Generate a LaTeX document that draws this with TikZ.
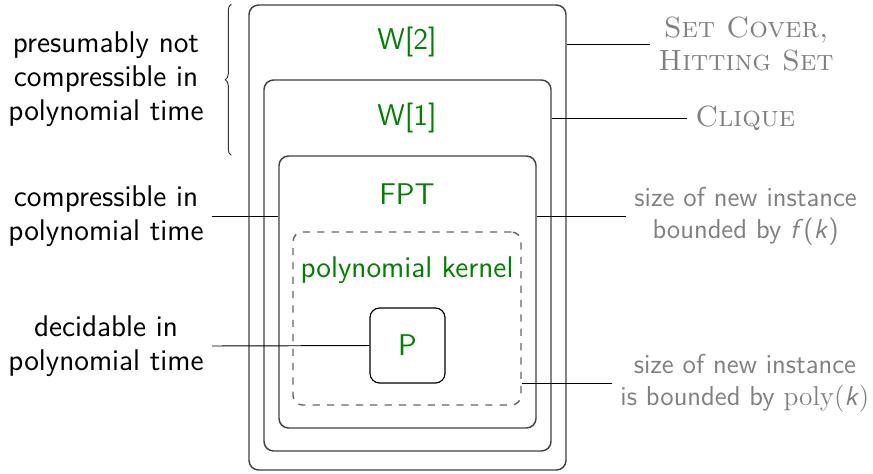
\documentclass[tikz,border=0pt]{standalone}
\usepackage{fontspec}
\usepackage{xcolor}
\usetikzlibrary{fit,calc,positioning}
\usetikzlibrary{decorations.pathreplacing}
\definecolor{classgreen}{rgb}{0,0.5,0}
\tikzset{>=latex}
\tikzset{
	classbox/.style={draw=black!75, line width=0.6pt, rounded corners=4pt, inner sep=0pt},
	classname/.style={text=classgreen, font=\sffamily\fontsize{12.5}{14.2}\selectfont},
	leftlabel/.style={anchor=east, align=center, font=\sffamily\fontsize{12.5}{14.2}\selectfont},
	rightlabel/.style={anchor=west, align=center, text=black!50, font=\sffamily\fontsize{11.4}{13.4}\selectfont},
	problabel/.style={rightlabel, font=\rmfamily\scshape\fontsize{12.2}{13.4}\selectfont}
}

\begin{document}
\begin{tikzpicture}[x=0.014662cm, y=-0.014662cm]
            \useasboundingbox (0,0) rectangle (873,473);
            \node[classbox, fit={(249,5) (566,470)}] (W2) {};
            \node[classbox, fit={(264,80) (551,451)}] (W1) {};
            \node[classbox, fit={(279,156) (536,428)}] (FPT) {};
            \node[classbox, draw=black!60, dashed, fit={(293,232) (521,405)}] (PK) {};
            \node[classbox, draw=black, line width=0.5pt, fit={(370,308) (445,383)}] (P) {};
            \node[classname] (W2name) at (407,42) {W[2]};
            \node[classname] (W1name) at (407,118) {W[1]};
            \node[classname] (FPTname) at (407,194) {FPT};
            \node[classname] (PKname) at (407,270) {polynomial kernel};
            \node[classname] (Pname) at (P) {P};
            \node[leftlabel] (Pres) at (212,79) {presumably not\\compressible in\\polynomial time};
            \node[leftlabel] (Comp) at (212,216) {compressible in\\polynomial time};
            \node[leftlabel] (Dec) at (212,346) {decidable in\\polynomial time};
            \node[problabel] (SC) at (650,44) {Set Cover,\\Hitting Set};
            \node[problabel] (CL) at (687,118) {Clique};
            \node[rightlabel] (FK) at (626,216) {size of new instance\\bounded by \textit{f}(\textit{k})};
            \node[rightlabel] (PolyK) at (612,383) {size of new instance\\is bounded by \textrm{poly(}\textit{k}\textrm{)}};
            \draw[black!80, decorate, decoration={brace, amplitude=2.5pt}] ($(W2.west |- FPT.north)+(-17,0)$) -- ($(W2.north west)+(-17,0)$);
            \draw (Comp.east) -- (FPT.west |- Comp.east);
            \draw (Dec.east) -- (P.west);
            \draw (W2.east |- SC.west) -- (SC.west);
            \draw (W1.east |- CL.west) -- (CL.west);
            \draw (FPT.east |- FK.west) -- (FK.west);
            \draw (PK.east |- PolyK.west) -- (PolyK.west);
        \end{tikzpicture}
\end{document}
